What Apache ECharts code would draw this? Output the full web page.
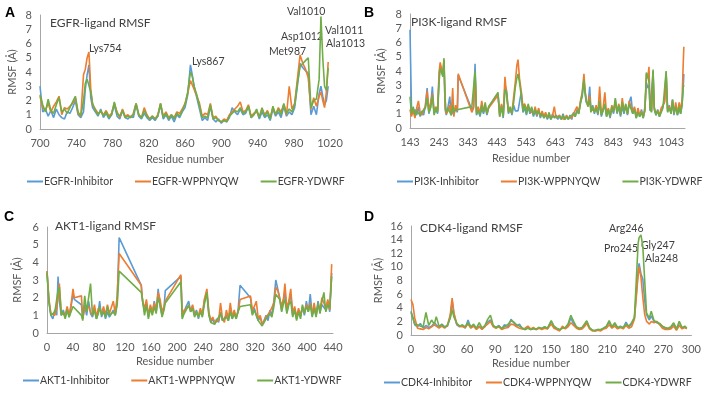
<!DOCTYPE html>
<html><head><meta charset="utf-8">
<script src="https://cdn.jsdelivr.net/npm/echarts@6/dist/echarts.min.js"></script>
<style>html,body{margin:0;padding:0;background:#fff}#c{width:704px;height:394px}</style>
</head><body><div id="c"></div>
<script>
// ---------- EGFR ----------
const egfrResidues = [700,703,706,709,712,715,718,721,724,727,730,733,736,739,742,745,748,750,752,754,756,758,761,764,767,770,773,776,779,782,785,788,791,794,797,800,803,806,809,812,815,818,821,824,827,830,833,836,839,842,845,848,851,854,857,860,863,866,868,870,873,876,879,882,885,888,891,894,897,900,903,906,909,912,915,918,921,924,927,930,933,936,939,942,945,948,951,954,957,960,963,966,969,972,975,978,981,984,987,990,993,996,999,1002,1005,1008,1010,1012,1014,1016,1018];
const egfrInhibitor = [3.0,1.2,1.4,0.9,1.3,0.8,1.4,1.0,0.8,0.7, 1.2,1.1,1.5,2.0,1.0,0.8,1.2,2.8,3.8,4.5, 2.2,1.5,1.2,0.9,1.4,0.8,1.1,0.7,1.0,1.7, 0.9,0.7,1.3,0.8,0.7,0.9,0.8,1.7,0.9,0.7, 1.1,0.8,0.6,0.8,0.6,0.9,1.7,0.7,1.0,0.6, 0.9,0.5,1.0,0.8,1.2,1.5,2.4,4.5,3.8,3.0, 2.2,1.4,0.6,0.8,0.6,1.6,0.7,0.5,0.7,0.4, 0.6,0.5,0.8,1.5,1.2,1.0,1.4,1.0,1.1,1.6, 0.8,1.0,1.3,0.7,1.2,0.8,1.0,0.6,1.4,0.9, 1.2,0.8,1.6,0.9,1.2,1.0,1.5,3.0,4.6,4.3, 4.1,3.9,1.0,1.6,1.0,2.5,3.0,2.3,1.7,2.0, 3.0];
const egfrWppnyqw = [2.3,1.5,1.3,1.8,1.2,1.6,1.9,2.3,1.0,1.5, 1.4,1.6,1.8,2.2,1.1,0.9,3.8,4.2,5.0,5.4, 2.8,1.7,1.4,1.1,1.2,1.0,1.3,0.9,1.1,1.8, 1.2,0.8,1.4,0.9,1.0,0.8,1.1,1.8,1.0,0.8, 1.5,1.0,0.7,0.9,0.7,1.0,1.8,0.9,1.2,0.8, 1.0,0.8,1.2,1.1,1.4,1.8,2.5,3.4,3.3,2.8, 2.3,1.8,0.9,1.1,1.0,1.8,0.8,0.9,0.6,0.5, 0.7,0.6,1.0,1.2,1.4,1.6,1.9,1.2,1.3,1.7, 0.9,1.1,1.2,0.9,1.4,1.0,1.3,0.8,1.5,1.0, 1.5,1.2,1.7,1.0,3.0,1.4,1.8,3.5,5.2,4.6, 4.2,3.6,1.4,2.2,1.6,2.3,2.6,2.0,1.5,2.6, 4.7];
const egfrYdwrf = [2.4,1.7,1.2,2.1,1.3,1.1,1.7,2.2,1.2,1.4, 1.1,1.5,1.9,2.3,1.2,0.9,2.0,3.2,3.5,3.6, 2.6,1.8,1.3,1.0,1.3,0.9,1.2,0.8,1.0,1.9, 1.1,0.9,1.3,0.8,0.9,0.8,1.0,1.8,1.0,0.8, 1.3,0.9,0.7,0.9,0.7,0.9,1.8,0.8,1.1,0.7, 1.0,0.7,1.1,0.9,1.3,1.7,2.6,4.0,3.7,3.0, 2.4,1.6,0.8,0.9,0.8,1.7,0.7,0.8,0.6,0.5, 0.6,0.5,0.9,1.1,1.3,1.2,1.5,1.1,1.2,1.6, 0.8,1.0,1.4,0.8,1.5,0.9,1.2,0.7,1.6,1.0, 1.4,1.0,1.8,1.1,1.4,1.2,1.7,3.2,4.4,4.6, 4.8,5.0,1.5,2.0,2.1,3.5,7.9,5.0,3.0,2.7, 4.3];

// ---------- PI3K ----------
const pi3kResidues = [143,148,154,160,166,172,178,184,190,196, 202,208,214,220,226,232,238,243,247,252, 256,260,264,268,274,280,285,290,294,300, 306,309,356,362,367,372,378,384,390,396, 402,408,414,446,452,458,464,470,476,482, 488,494,500,506,511,515,520,526,532,538, 544,550,556,562,568,574,580,586,592,598, 604,610,616,622,628,634,640,646,652,658, 664,670,676,682,688,694,700,706,712,718, 724,730,736,742,746,750,756,762,766,772, 778,784,790,796,802,808,814,820,826,832, 838,844,850,856,862,868,874,880,886,892, 898,904,910,916,922,928,934,940,946,952, 957,962,966,970,975,980,984,990,996,1002, 1008,1014,1020,1025,1030,1036,1042,1047,1052,1058, 1064,1070,1075,1080,1083,1086];
const pi3kInhibitor = [6.9,1.5,1.0,1.3,0.9,1.5,0.8,1.2,0.9,1.6, 2.8,1.0,1.5,2.9,1.0,1.3,1.0,3.5,4.4,4.0, 3.7,4.6,1.3,0.9,1.5,2.2,0.9,1.2,1.0,1.4, 1.1,3.7,1.3,1.5,4.5,0.9,1.3,0.8,1.4,1.0, 1.5,0.9,1.5,2.4,0.9,1.6,0.7,3.0,2.6,1.0, 1.4,0.9,1.6,1.2,1.1,1.2,1.8,2.5,1.1,1.4, 0.9,1.5,1.0,1.4,0.8,1.2,0.8,1.3,0.7,1.1, 0.7,1.0,0.6,0.9,0.6,1.0,0.7,0.9,0.6,0.8, 0.6,1.0,0.6,0.8,0.6,0.9,0.6,1.1,0.8,1.3, 1.0,1.8,2.2,3.3,2.4,1.8,1.6,2.9,1.2,1.6, 1.0,1.5,0.9,1.8,0.8,1.3,1.6,0.8,1.3,0.7, 1.4,1.0,2.0,1.0,1.5,0.8,1.5,1.0,1.6,0.9, 1.8,2.2,1.0,1.4,0.7,1.2,0.8,1.3,0.7,1.5, 3.2,2.8,3.0,1.2,1.3,4.0,1.3,0.9,1.3,0.8, 1.2,1.5,2.0,3.8,1.2,1.6,1.0,2.0,0.9,1.6, 0.9,1.4,1.0,1.7,2.5,3.8];
const pi3kWppnyqw = [1.3,0.8,1.2,0.7,1.4,1.9,1.1,0.9,1.3,1.5, 2.6,1.2,1.8,2.4,1.1,1.5,1.2,3.9,4.6,4.1, 3.8,4.8,1.5,1.0,1.2,1.6,1.0,2.8,0.8,1.6, 1.2,3.8,1.1,1.4,3.9,1.1,1.5,1.0,1.9,1.2, 1.6,1.0,1.4,2.3,0.8,1.7,0.9,3.6,2.2,1.2, 1.3,1.1,2.2,3.3,4.4,4.8,3.5,2.6,1.5,1.7, 1.3,1.6,1.2,1.3,1.0,1.5,0.9,1.4,0.8,1.2, 0.8,1.1,0.7,1.0,0.7,0.9,1.5,0.7,0.6,0.9, 0.7,0.8,0.6,0.9,0.7,0.8,0.7,1.0,0.9,1.5, 1.1,1.9,2.5,3.8,2.6,2.0,1.5,2.3,1.3,1.4, 1.2,1.6,1.0,2.9,1.0,1.4,2.5,0.9,1.4,0.8, 1.6,1.2,1.8,1.1,1.7,1.0,2.1,1.2,1.5,1.0, 1.9,1.5,1.1,1.5,0.8,1.4,0.9,1.2,0.8,1.2, 3.8,3.5,4.3,1.4,1.2,3.8,1.4,1.0,1.2,0.9, 1.4,1.3,1.8,3.9,1.3,1.5,1.1,1.9,1.0,1.8, 1.0,1.8,1.2,2.0,4.0,5.7];
const pi3kYdwrf = [2.2,1.0,1.5,0.9,1.2,1.3,0.9,1.1,1.0,1.4, 2.1,1.1,1.4,2.3,0.9,1.4,1.1,3.2,4.2,3.9, 3.6,4.9,2.0,1.1,1.4,1.5,0.9,1.6,1.1,1.3, 1.2,1.3,1.5,1.4,4.0,1.0,1.2,0.9,1.6,1.1, 1.8,1.0,1.5,2.5,0.8,1.5,0.8,2.7,2.4,1.1, 1.5,1.0,1.8,2.9,3.5,3.8,3.2,2.3,1.2,1.6, 1.0,1.7,1.1,1.5,0.9,1.3,1.0,1.2,0.8,1.0, 0.7,0.9,0.7,1.1,0.6,0.8,0.8,0.8,0.7,0.8, 0.6,0.9,0.6,0.8,0.6,0.8,0.7,1.0,0.8,1.2, 1.0,1.7,2.4,3.4,2.5,1.9,1.5,2.0,1.1,1.5, 1.1,1.4,1.0,1.9,0.9,1.2,1.7,0.8,1.3,0.8, 1.5,1.1,2.1,1.1,1.6,0.9,1.8,1.1,1.7,1.0, 1.7,1.6,1.0,1.3,0.7,1.1,0.8,1.1,0.7,1.3, 3.9,3.6,3.2,1.3,1.1,4.1,1.5,0.9,1.2,0.8, 1.1,1.4,1.5,4.0,1.1,1.4,1.0,2.0,1.0,1.5, 0.9,1.5,1.0,1.6,2.8,3.0];

// ---------- AKT1 ----------
const akt1Residues = [0,3,6,9,12,15,17,19,22,25, 28,31,34,37,40,42,53,55,58,61, 64,67,70,73,76,79,81,84,87,90, 93,96,99,102,105,108,111,145,147,150, 153,156,159,162,165,168,171,174,177,180, 182,206,208,211,214,218,221,224,227,230, 233,236,239,242,246,249,252,255,258,261, 264,267,270,273,276,279,282,285,288,291, 294,297,313,316,319,322,325,328,331,334, 337,340,343,346,349,352,355,358,361,364, 366,369,372,375,378,381,384,387,390,393, 396,399,402,405,408,411,414,417,420,423, 426,429,432,435,438];
const akt1Inhibitor = [3.5,1.8,1.0,0.8,1.3,1.0,3.2,1.8,1.0,1.3, 0.9,1.4,0.9,1.5,2.2,1.9,1.6,0.8,1.6,1.0, 1.8,1.1,0.9,1.4,0.8,1.2,1.8,0.9,1.3,0.8, 1.2,0.9,1.1,1.3,1.0,1.8,5.4,2.7,1.8,1.2, 1.7,0.9,1.5,1.1,1.8,1.2,2.5,1.5,1.0,1.4, 2.4,3.2,0.9,1.2,1.5,1.8,1.2,1.5,1.0,1.3, 0.8,1.3,1.0,1.8,2.2,1.1,0.6,0.8,0.5,0.8, 0.6,1.2,0.7,0.6,1.0,0.7,1.3,0.8,1.2,0.8, 1.3,2.7,2.0,1.1,1.4,1.0,0.7,0.9,0.5,0.7, 1.0,0.7,1.3,1.0,1.8,3.0,2.5,2.0,1.3,1.9, 2.3,1.2,1.7,2.2,1.0,1.4,0.8,1.3,0.9,1.5, 1.0,1.8,1.2,2.2,1.0,1.5,1.0,1.8,1.2,1.6, 1.5,1.3,1.8,1.2,3.4];
const akt1Wppnyqw = [3.5,1.9,1.1,1.2,1.0,1.4,2.0,2.8,1.1,1.2, 1.0,1.5,1.0,1.6,2.5,2.0,2.1,0.8,1.4,1.3, 1.5,1.2,1.0,1.6,0.9,1.4,1.3,1.1,1.5,1.0, 1.6,1.1,1.2,1.8,1.1,2.1,4.5,2.7,1.8,1.4, 1.9,1.0,1.6,1.2,1.7,1.3,2.3,1.9,1.2,1.5, 1.8,3.3,1.0,1.3,1.4,1.5,1.3,1.6,1.1,1.2, 1.0,1.4,1.0,1.9,2.5,1.2,0.7,0.9,0.6,0.7, 0.7,1.7,0.8,0.6,1.3,0.8,1.7,0.9,1.3,0.9, 1.2,1.9,2.1,1.3,1.5,1.8,0.8,1.0,0.5,0.6, 0.9,0.8,1.2,1.1,1.7,2.6,2.4,2.3,1.5,2.0, 2.8,1.4,1.8,2.5,1.1,1.5,0.9,1.4,1.0,1.4, 1.2,1.6,1.3,1.7,1.1,1.7,1.0,1.6,1.3,2.0, 1.7,1.4,1.9,1.3,3.9];
const akt1Ydwrf = [3.4,1.7,1.0,0.9,1.2,1.1,2.4,2.6,1.0,1.2, 0.8,1.3,0.9,1.2,1.5,1.4,1.0,0.7,2.1,1.2, 1.3,2.8,1.0,1.3,0.8,1.1,1.5,1.0,1.2,0.9, 1.5,1.0,0.9,1.2,1.0,1.6,3.5,2.3,1.9,1.0, 1.6,0.8,1.4,1.0,1.5,1.1,2.0,1.6,0.9,1.3, 1.7,2.9,0.8,1.1,1.3,1.6,1.2,1.4,0.9,1.2, 0.9,1.2,0.9,1.6,2.3,1.0,0.6,0.7,0.5,0.7, 0.6,1.1,0.7,0.6,0.9,0.7,1.2,0.8,1.1,0.8, 1.2,1.5,1.6,1.0,1.3,1.2,0.7,0.8,0.4,0.6, 0.8,0.7,1.1,0.9,1.5,2.2,2.2,1.9,1.2,1.7, 1.9,1.1,1.6,1.8,0.9,1.3,0.7,1.2,0.8,1.6, 1.1,1.5,1.2,1.6,0.9,1.4,0.9,1.7,1.1,1.8, 2.3,1.2,1.6,1.4,3.2];

// ---------- CDK4 ----------
const cdk4Residues = [0,2,4,7,10,13,16,19,22,25, 27,30,33,36,39,42,44,46,49,52, 55,58,61,64,67,70,73,76,79,82, 85,88,91,94,97,100,104,107,110,113, 116,119,122,125,128,131,134,137,140,143, 146,150,153,156,159,162,165,168,171,174, 177,180,183,186,188,191,194,197,200,203, 206,209,212,215,218,221,224,227,230,233, 236,239,241,243,244,246,248,250,252,255, 257,260,263,266,269,272,275,278,281,284, 287,290,293,295];
const cdk4Inhibitor = [3.5,2.6,1.5,1.2,1.7,1.0,1.4,1.1,1.3,1.8, 2.0,1.1,1.6,1.2,1.3,2.6,5.0,3.0,1.5,1.2, 1.4,1.0,2.2,1.1,1.4,0.9,1.3,0.9,1.2,1.9, 2.2,1.3,1.1,1.4,0.9,1.5,1.2,2.3,1.8,1.3, 1.6,1.0,0.8,1.1,0.8,1.0,0.8,1.1,0.9,1.2, 0.9,2.0,1.2,0.9,0.7,1.1,1.0,1.4,2.5,1.6, 1.1,0.9,1.0,1.5,2.0,1.0,0.7,0.6,0.8,0.7, 1.0,1.2,1.9,1.1,1.6,1.0,1.3,1.0,1.9,1.2, 1.6,2.5,6.0,9.5,10.5,9.0,8.2,5.0,3.0,2.2, 2.8,2.0,1.8,1.6,1.2,1.0,0.9,1.1,1.6,0.8, 1.5,1.0,1.2,1.0];
const cdk4Wppnyqw = [5.2,4.5,2.5,1.0,0.9,0.8,1.1,0.9,1.2,1.5, 1.7,1.0,1.3,1.0,1.4,3.0,5.4,3.2,1.6,1.3, 1.2,1.1,1.6,1.0,1.3,0.8,1.2,0.8,1.3,1.6, 2.0,1.2,1.0,1.2,0.8,1.0,1.1,1.6,1.5,1.2, 1.0,0.9,1.0,1.3,0.9,1.1,0.8,1.0,0.8,1.0, 0.9,1.6,1.0,0.8,0.6,1.3,0.9,1.2,1.8,1.4, 1.0,0.8,0.9,1.3,1.7,0.9,0.6,0.6,0.7,0.6, 0.9,1.0,1.5,1.0,1.3,0.9,1.1,0.9,1.4,1.0, 1.2,2.3,5.5,8.8,10.0,8.5,5.5,3.0,2.0,1.6, 2.0,1.8,2.0,1.5,1.0,0.8,0.8,0.9,1.3,0.7, 1.4,0.9,1.1,0.9];
const cdk4Ydwrf = [3.3,2.5,1.6,1.5,1.3,1.2,3.3,1.4,2.2,1.6, 2.7,1.3,1.5,1.1,1.5,2.5,3.7,2.6,1.7,1.3, 1.5,1.2,1.8,1.2,1.6,1.0,1.8,1.0,1.4,2.3, 2.9,1.4,1.1,1.3,1.0,1.2,1.6,2.1,1.9,1.5, 1.3,1.0,0.8,1.0,0.8,0.9,0.9,1.1,1.0,1.2, 1.0,2.1,1.3,1.0,0.8,1.0,1.1,1.6,2.9,2.0, 1.2,1.0,1.1,1.7,2.1,1.1,0.7,0.7,0.8,0.8, 1.0,1.3,2.1,1.2,1.8,1.1,1.2,1.1,1.6,1.3, 1.8,2.6,8.0,13.5,14.3,14.7,13.0,8.0,3.2,2.5, 3.5,2.1,1.9,1.7,1.3,1.1,1.0,1.2,1.8,0.9, 2.0,1.1,1.3,1.0];

// ---------- labels ----------
const panelTitles = ['EGFR-ligand RMSF','PI3K-ligand RMSF','AKT1-ligand RMSF','CDK4-ligand RMSF'];
const panelLetters = ['A','B','C','D'];
const proteins = ['EGFR','PI3K','AKT1','CDK4'];
const ligands = ['Inhibitor','WPPNYQW','YDWRF'];
const egfrAnnotations = ['Lys754','Lys867','Met987','Asp1012','Val1010','Val1011','Ala1013'];
const cdk4Annotations = ['Arg246','Pro245','Gly247','Ala248'];
const xTitle = 'Residue number';
const yTitle = 'RMSF (Å)';

// ---------- build ----------
const FONT = 'Lato';
const colors = ['#5B9BD5','#ED7D31','#70AD47'];
const pair = (xs, ys) => xs.map((x, i) => [x, ys[i]]);
const panelData = [
  [egfrResidues, [egfrInhibitor, egfrWppnyqw, egfrYdwrf]],
  [pi3kResidues, [pi3kInhibitor, pi3kWppnyqw, pi3kYdwrf]],
  [akt1Residues, [akt1Inhibitor, akt1Wppnyqw, akt1Ydwrf]],
  [cdk4Residues, [cdk4Inhibitor, cdk4Wppnyqw, cdk4Ydwrf]]
];
const grids = [
  {left:40, top:15, width:290, height:114},
  {left:410, top:14, width:275, height:114},
  {left:47, top:227, width:286, height:106},
  {left:411, top:226, width:281, height:109}
];
const xCfg = [
  {min:700, max:1020, interval:40},
  {min:143, max:1090, interval:100},
  {min:0, max:440, interval:40},
  {min:0, max:300, interval:30}
];
const yCfg = [
  {min:0, max:8, interval:1, nameGap:22},
  {min:0, max:8, interval:1, nameGap:23},
  {min:0, max:6, interval:1, nameGap:24},
  {min:0, max:16, interval:2, nameGap:27}
];
const axisLine = {show:true, lineStyle:{color:'#a6a6a6', width:1}};
const lbl = {color:'#595959', fontSize:11, fontFamily:FONT, formatter: v => String(v)};

const series = [];
panelData.forEach(([xs, ysList], p) => {
  ysList.forEach((ys, k) => {
    series.push({
      name: proteins[p] + '-' + ligands[k],
      type:'line', xAxisIndex:p, yAxisIndex:p,
      data: pair(xs, ys), showSymbol:false, symbol:'none',
      color: colors[k], lineStyle:{width:1.6, color:colors[k]},
      emphasis:{disabled:true}, z: 2 + k
    });
  });
});

const legendPos = [
  {left:27, top:176, gap:22}, {left:397, top:176, gap:22}, {left:23, top:375, gap:22}, {left:384, top:377, gap:14}
];
const legends = proteins.map((pr, p) => ({
  data: ligands.map(l => pr + '-' + l),
  left: legendPos[p].left, top: legendPos[p].top, padding:0,
  orient:'horizontal', icon:'rect', itemWidth:16, itemHeight:2, itemGap:legendPos[p].gap,
  textStyle:{color:'#404040', fontSize:10.5, fontFamily:FONT, padding:[0,0,0,-4]},
  selectedMode:false
}));

const titles = panelTitles.map((t, i) => ({
  text: t, left: [50,411,55,420][i], top: [25,24,228,230][i] - 8, padding:0,
  textStyle:{fontSize:12, fontWeight:'normal', color:'#404040', fontFamily:FONT}
}));

function txt(text, x, y, opts) {
  opts = opts || {};
  return {type:'text', x:x, y:y, silent:true,
    style:{text:text, font:(opts.font || ('10.5px ' + FONT)), fill:(opts.fill || '#404040'),
      textAlign:(opts.align || 'left'), textVerticalAlign:'middle'}};
}
const graphics = [];
const letterPos = [[5,13],[364,13],[4,217],[364,217]];
panelLetters.forEach((t, i) => graphics.push(txt(t, letterPos[i][0], letterPos[i][1], {font:'bold 14px "Liberation Sans"', fill:'#000'})));
const xTitlePos = [[185,159],[531,158],[175,361],[531,363]];
xTitlePos.forEach(p => graphics.push(txt(xTitle, p[0], p[1], {align:'center', fill:'#595959', font:'11px ' + FONT})));
const egfrAnnPos = [[89,49],[192,62],[269,52],[281,37],[287,12],[325,31],[326,44]];
egfrAnnotations.forEach((t, i) => graphics.push(txt(t, egfrAnnPos[i][0], egfrAnnPos[i][1])));
const cdk4AnnPos = [[609,229],[604,249],[641,246],[645,259]];
cdk4Annotations.forEach((t, i) => graphics.push(txt(t, cdk4AnnPos[i][0], cdk4AnnPos[i][1])));

const option = {
  animation:false,
  backgroundColor:'#fff',
  title: titles,
  grid: grids.map(g => Object.assign({containLabel:false}, g)),
  xAxis: xCfg.map((c, i) => ({
    gridIndex:i, type:'value', min:c.min, max:c.max, interval:c.interval,
    axisLine:axisLine, axisTick:{show:false}, splitLine:{show:false},
    axisLabel:Object.assign({margin:9, showMaxLabel: i !== 1}, lbl)
  })),
  yAxis: yCfg.map((c, i) => ({
    gridIndex:i, type:'value', min:c.min, max:c.max, interval:c.interval,
    name:yTitle, nameLocation:'middle', nameGap:c.nameGap, nameRotate:90,
    nameTextStyle:{color:'#595959', fontSize:11, fontFamily:FONT},
    axisLine:axisLine, axisTick:{show:false}, splitLine:{show:false},
    axisLabel:Object.assign({margin:8}, lbl)
  })),
  legend: legends,
  series: series,
  graphic: graphics
};
const chart = echarts.init(document.getElementById('c'), null, {renderer:'canvas'});
chart.setOption(option);
</script>
</body></html>
